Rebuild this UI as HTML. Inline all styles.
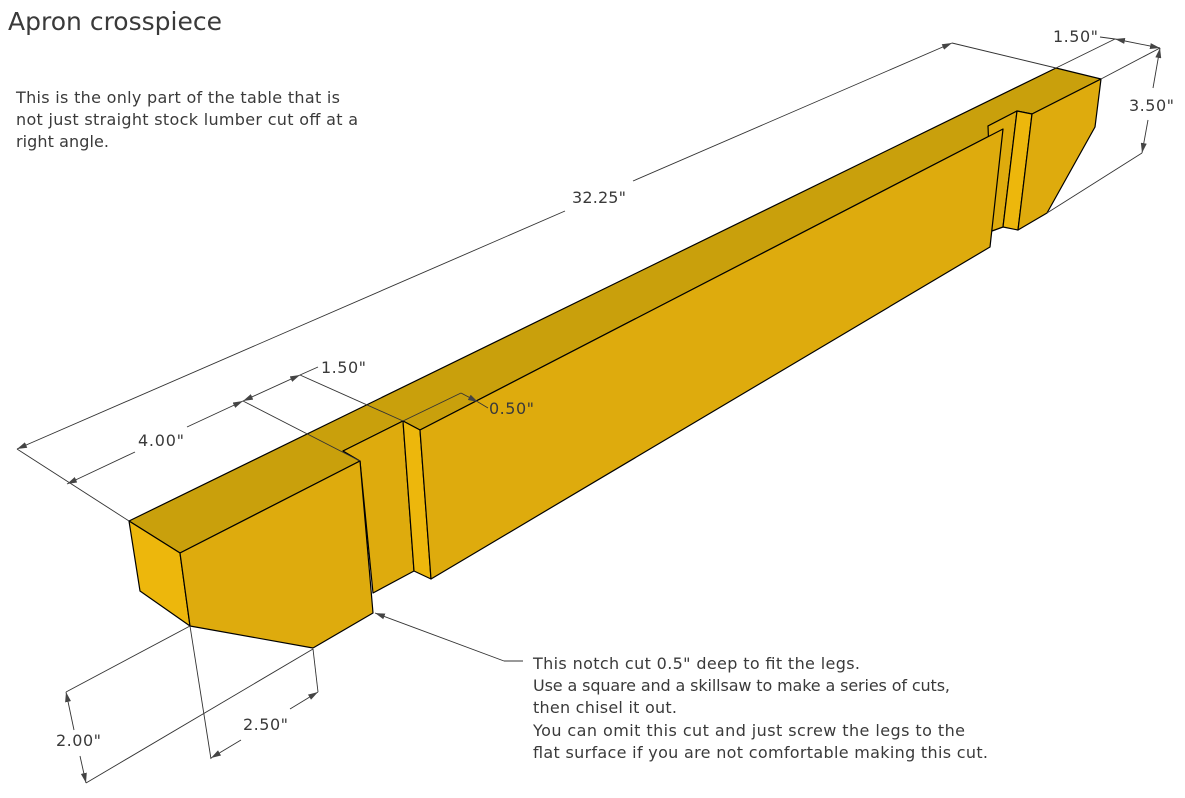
<!DOCTYPE html>
<html><head><meta charset="utf-8"><style>
html,body{margin:0;padding:0;background:#fff;}
svg{display:block;}
text{font-family:"DejaVu Sans","Liberation Sans",sans-serif;fill:#3a3a3a;}
</style></head><body>
<svg width="1185" height="798" viewBox="0 0 1185 798" xmlns="http://www.w3.org/2000/svg">
<defs>
<marker id="ar" viewBox="0 0 10 6" refX="10" refY="3" markerWidth="10" markerHeight="6" orient="auto-start-reverse" markerUnits="userSpaceOnUse"><path d="M0,0 L10,3 L0,6 z" fill="#444"/></marker>
</defs>
<!-- solid -->
<g stroke="#000" stroke-width="1.2" stroke-linejoin="round">
<!-- top face -->
<polygon fill="#C9A00C" points="129,521 180,553 360,461 343,451 403,421 420,430 1003,129 988,126 1017,111 1032,114 1101,79 1056,68"/>
<!-- recess face left notch -->
<polygon fill="#DEAB0D" points="343,451 403,421 414,571 373,593 360,461"/>
<!-- notch side wall left -->
<polygon fill="#EDB70C" points="403,421 420,430 431,579 414,571"/>
<!-- right notch recess (behind beam) -->
<polygon fill="#DEAB0D" points="988,126 1017,111 1003,227 992,231"/>
<!-- main beam front -->
<polygon fill="#DEAB0D" points="420,430 1003,129 990,247 431,579"/>
<!-- right notch side wall -->
<polygon fill="#EDB70C" points="1017,111 1032,114 1018,230 1003,227"/>
<!-- right block front -->
<polygon fill="#DEAB0D" points="1032,114 1101,79 1095,127 1047,213 1018,230"/>
<!-- left end face -->
<polygon fill="#EDB70C" points="129,521 180,553 190,626 140,591"/>
<!-- left block front -->
<polygon fill="#DEAB0D" points="180,553 360,461 373,613 313,648 190,626"/>
</g>
<!-- dimension lines -->
<g stroke="#333" stroke-width="0.9" fill="none">
<line x1="129" y1="521" x2="17" y2="449"/>
<line x1="1056" y1="68" x2="952" y2="43"/>
<line x1="17" y1="449" x2="565" y2="211" marker-start="url(#ar)"/>
<line x1="633" y1="181" x2="952" y2="43" marker-end="url(#ar)"/>
<!-- 4.00 -->
<line x1="360" y1="461" x2="243" y2="401"/>
<line x1="67" y1="484" x2="135" y2="452" marker-start="url(#ar)"/>
<line x1="187" y1="427" x2="243" y2="401" marker-end="url(#ar)"/>
<!-- 1.50 left -->
<line x1="403" y1="421" x2="300" y2="375"/>
<line x1="243" y1="401" x2="300" y2="375" marker-start="url(#ar)" marker-end="url(#ar)"/>
<line x1="300" y1="375" x2="318" y2="367"/>
<!-- 0.50 -->
<line x1="403" y1="421" x2="461" y2="393"/>
<line x1="461" y1="393" x2="478" y2="402" marker-end="url(#ar)"/>
<line x1="478" y1="402" x2="488" y2="408"/>
<!-- 1.50 top right -->
<line x1="1056" y1="68" x2="1115" y2="39"/>
<line x1="1101" y1="79" x2="1160" y2="48"/>
<line x1="1100" y1="37" x2="1115" y2="39" />
<line x1="1115" y1="39" x2="1160" y2="48" marker-start="url(#ar)" marker-end="url(#ar)"/>
<!-- 3.50 -->
<line x1="1047" y1="213" x2="1142" y2="153"/>
<line x1="1160" y1="48" x2="1153" y2="88" marker-start="url(#ar)"/>
<line x1="1148" y1="120" x2="1142" y2="153" marker-end="url(#ar)"/>
<!-- 2.00 -->
<line x1="190" y1="626" x2="66" y2="692"/>
<line x1="313" y1="649" x2="86" y2="783"/>
<line x1="66" y1="692" x2="74" y2="730" marker-start="url(#ar)"/>
<line x1="80" y1="756" x2="86" y2="783" marker-end="url(#ar)"/>
<!-- 2.50 -->
<line x1="190" y1="626" x2="211" y2="759"/>
<line x1="313" y1="649" x2="318" y2="692"/>
<line x1="211" y1="758" x2="241" y2="740" marker-start="url(#ar)"/>
<line x1="290" y1="709" x2="318" y2="692" marker-end="url(#ar)"/>
<!-- leader -->
<line x1="375" y1="613" x2="504" y2="661" marker-start="url(#ar)"/>
<line x1="504" y1="661" x2="523" y2="661"/>
</g>
<!-- labels -->
<g font-size="16">
<text x="572" y="203" textLength="54">32.25"</text>
<text x="138" y="446" textLength="46">4.00"</text>
<text x="321" y="373" textLength="45">1.50"</text>
<text x="489" y="414" textLength="45">0.50"</text>
<text x="1053" y="42" textLength="45">1.50"</text>
<text x="1129" y="111" textLength="45">3.50"</text>
<text x="56" y="746" textLength="45">2.00"</text>
<text x="243" y="730" textLength="45">2.50"</text>
</g>
<text x="8" y="30" font-size="25" textLength="214">Apron crosspiece</text>
<g font-size="16">
<text x="16" y="103" textLength="324">This is the only part of the table that is</text>
<text x="16" y="125" textLength="342">not just straight stock lumber cut off at a</text>
<text x="16" y="147" textLength="93">right angle.</text>
<text x="533" y="669" textLength="327">This notch cut 0.5" deep to fit the legs.</text>
<text x="533" y="691" textLength="417">Use a square and a skillsaw to make a series of cuts,</text>
<text x="533" y="713" textLength="144">then chisel it out.</text>
<text x="533" y="736" textLength="432">You can omit this cut and just screw the legs to the</text>
<text x="533" y="758" textLength="455">flat surface if you are not comfortable making this cut.</text>
</g>
</svg>
</body></html>
